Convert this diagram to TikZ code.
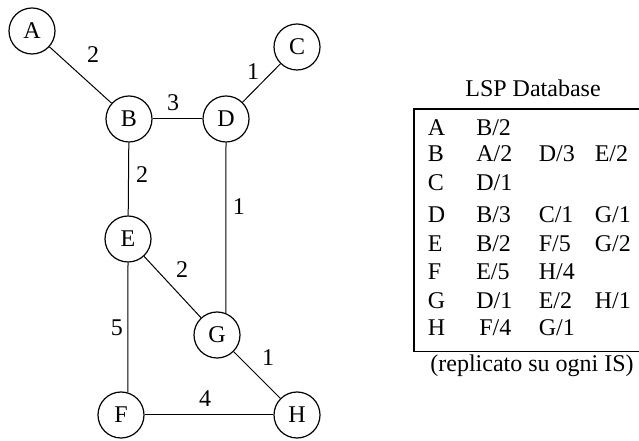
\documentclass[tikz,border=0pt]{standalone}
\usepackage{fontspec}
\setmainfont{Liberation Serif}

\tikzset{
  router/.style={draw=black,circle,line width=1.2pt,minimum size=46pt,inner sep=0pt,
    font=\fontsize{24}{28}\selectfont},
  link/.style={draw=black,line width=1pt},
  cost/.style={inner sep=0pt,font=\fontsize{24}{28}\selectfont},
}

\begin{document}
\begin{tikzpicture}[x=1pt,y=1pt]
\useasboundingbox (0,0) rectangle (639,441);
% routers:
\node[router] (A) at (32,410) {A};
\node[router] (B) at (129,322) {B};
\node[router] (C) at (297,394) {C};
\node[router] (D) at (226,322) {D};
\node[router] (E) at (128,202) {E};
\node[router] (G) at (217,106) {G};
\node[router] (F) at (121,26) {F};
\node[router] (H) at (297,26) {H};
% links with costs:
\draw[link] (A) -- node[cost,midway,shift={(12.5,20)}] {2} (B);
\draw[link] (B) -- node[cost,midway,shift={(-4.5,16)}] {3} (D);
\draw[link] (C) -- node[cost,midway,shift={(-8.5,11)}] {1} (D);
\draw[link] (B) -- node[cost,midway,shift={(13.5,4)}] {2} (E);
\draw[link] (D.south) -- node[cost,midway,shift={(13,21)}] {1} (G.68);
\draw[link] (E) -- node[cost,midway,shift={(9.5,17)}] {2} (G);
\draw[link] (E.south) -- node[cost,midway,shift={(-11,0)}] {5} (F.73);
\draw[link] (G) -- node[cost,midway,shift={(11,17)}] {1} (H);
\draw[link] (F) -- node[cost,midway,shift={(-4,16)}] {4} (H);
% LSP database:
\node[cost] (title) at (533,353) {LSP Database};
\draw[line width=1.2pt] (639,332) -- (414,332) -- (414,89.5) -- (639,89.5);
\node[cost,anchor=base west,font=\fontsize{24}{28.7}\selectfont] (db) at (427.6,305.3)
  {\begin{tabular}[t]{@{}p{48.5pt}@{}p{62.5pt}@{}p{56pt}@{}l@{}}
   A & B/2 \\[-2.7pt]
   B & A/2 & D/3 & E/2 \\
   C & D/1 \\[3.3pt]
   D & B/3 & C/1 & G/1 \\
   E & B/2 & F/5 & G/2 \\
   F & E/5 & H/4 \\
   G & D/1 & E/2 & H/1 \\[-1.7pt]
   H & \hspace{3pt}F/4 & G/1 \\
  \end{tabular}};
\node[cost] (note) at (532,75) {(replicato su ogni IS)};
\end{tikzpicture}
\end{document}
